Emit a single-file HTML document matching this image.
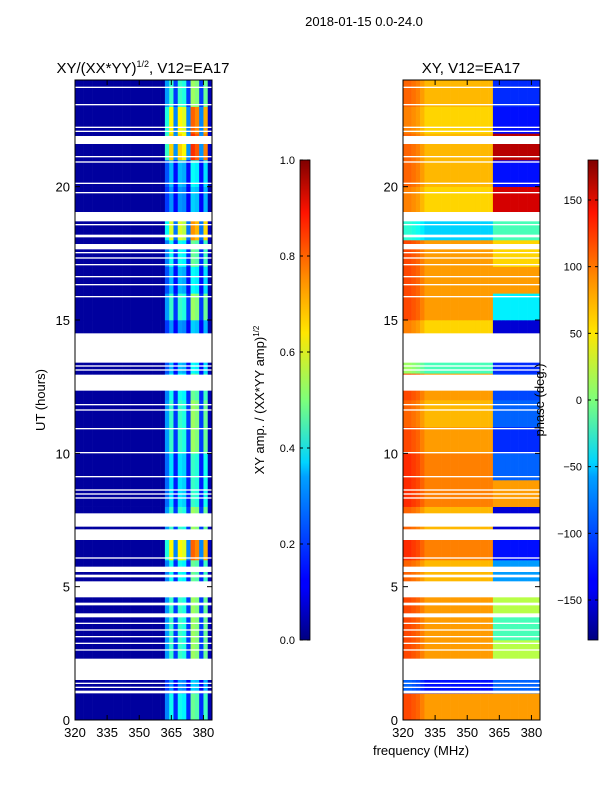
<!DOCTYPE html>
<html><head><meta charset="utf-8"><style>
body{margin:0;background:#fff;font-family:"Liberation Sans","DejaVu Sans",sans-serif}
svg text{font-family:"Liberation Sans","DejaVu Sans",sans-serif;fill:#000}
</style></head><body>
<svg id="fig" width="600" height="800" viewBox="0 0 600 800" xmlns="http://www.w3.org/2000/svg">
<defs>
<linearGradient id="jetv" x1="0" y1="1" x2="0" y2="0">
<stop offset="0" stop-color="#000080"/><stop offset="0.11" stop-color="#0000ff"/><stop offset="0.125" stop-color="#0000ff"/>
<stop offset="0.34" stop-color="#00a0ff"/><stop offset="0.37" stop-color="#00d4ff"/><stop offset="0.5" stop-color="#7dff7a"/>
<stop offset="0.64" stop-color="#ffe600"/><stop offset="0.75" stop-color="#ff9000"/><stop offset="0.89" stop-color="#ff1300"/><stop offset="1" stop-color="#800000"/>
</linearGradient>
</defs>
<text x="364" y="26" font-size="13" text-anchor="middle">2018-01-15 0.0-24.0</text>
<text x="143" y="73" font-size="15" text-anchor="middle">XY/(XX*YY)<tspan font-size="9" dy="-6">1/2</tspan><tspan dy="6">, V12=EA17</tspan></text>
<text x="471" y="73" font-size="15" text-anchor="middle">XY, V12=EA17</text>
<g id="ampPanel"></g>
<g id="phPanel"></g>
<g id="axes"></g>
<text transform="translate(45,400) rotate(-90)" font-size="13" text-anchor="middle">UT (hours)</text>
<text x="421" y="755" font-size="13" text-anchor="middle">frequency (MHz)</text>
<rect x="300" y="160" width="10" height="480" fill="url(#jetv)" stroke="#000" stroke-width="0.8"/>
<rect x="588" y="160" width="10" height="480" fill="url(#jetv)" stroke="#000" stroke-width="0.8"/>
<text transform="translate(264,400) rotate(-90)" font-size="13" text-anchor="middle">XY amp. / (XX*YY amp)<tspan font-size="8" dy="-5">1/2</tspan></text>
<text transform="translate(544,400) rotate(-90)" font-size="13" text-anchor="middle">phase (deg.)</text>
<g id="cbt"></g>
</svg>
<script>
const hourBlocks=[0,1,2,3,4,5,6,7,8,9,10,11,12,13,14,15,16,17,18,19,20,21,22,23];
const stripeIntensity=[0.45,0.3,0.5,0.5,0.5,0.45,0.75,0.5,0.4,0.4,0.5,0.5,0.45,0.35,0.3,0.5,0.35,0.45,0.7,0.3,0.35,0.8,0.75,0.5];
const freqBins=[320,322,324,326,328,330,332,334,336,338,340,342,344,346,348,350,352,354,356,358,360,362,364,366,368,370,372,374,376,378,380,382];
const stripeProfile=[0,0,0,0,0,0,0,0,0,0,0,0,0,0,0,0,0,0,0,0,0,0.5,0.8,0.3,0.8,0.75,0.3,1.0,0.95,0.3,0.9,0.05];
const phaseLow=[80,-130,80,80,80,70,90,70,90,90,80,70,80,-20,60,80,80,80,-60,60,70,70,60,70];
const phaseHigh=[80,-100,20,-20,20,-80,-130,-150,80,-100,-120,-100,-110,-120,-150,-50,80,60,-20,150,-130,160,-130,-120];
const phaseColAdj=[30,30,25,20,10,0,0,0,0,0,0,0,0,0,0,0,0,0,0,0,0,0,0,0,0,0,0,0,0,0,0,0];
const flagged=[[1.0,1.1],[1.2,1.25],[1.35,1.4],[1.5,2.3],[2.6,2.65],[2.85,2.9],[3.1,3.15],[3.35,3.4],[3.6,3.65],[3.85,4.0],[4.3,4.4],[4.6,5.2],[5.35,5.45],[5.55,5.75],[6.05,6.1],[6.75,7.15],[7.25,7.75],[8.3,8.35],[8.45,8.5],[8.6,8.65],[9.1,9.15],[10.0,10.05],[10.9,10.95],[11.6,11.65],[11.8,11.85],[12.35,12.95],[13.1,13.15],[13.25,13.3],[13.4,14.5],[15.85,15.9],[16.3,16.35],[16.6,16.65],[17.05,17.1],[17.3,17.35],[17.5,17.55],[17.65,17.85],[18.1,18.2],[18.55,18.6],[18.7,19.05],[19.75,19.8],[20.1,20.15],[20.9,20.95],[21.1,21.15],[21.6,21.9],[22.05,22.1],[22.2,22.25],[23.05,23.1],[23.7,23.75]];
const yTicks=[0,5,10,15,20];
const xTicks=[320,335,350,365,380];
const ampTicks=[0.0,0.2,0.4,0.6,0.8,1.0];
const phaseTicks=[-150,-100,-50,0,50,100,150];

const NS="http://www.w3.org/2000/svg";
const PT=80,PB=720,HMAX=24;
const yS=h=>PB-(h/HMAX)*(PB-PT);
function xS(x0,f){return x0+(f-320)*(137/64);}
function jet(v){v=Math.max(0,Math.min(1,v));
 const r=Math.max(0,Math.min(1,1.5-Math.abs(4*v-3))),g=Math.max(0,Math.min(1,1.5-Math.abs(4*v-2))),b=Math.max(0,Math.min(1,1.5-Math.abs(4*v-1)));
 return `rgb(${Math.round(r*255)},${Math.round(g*255)},${Math.round(b*255)})`;}
function mk(tag,attrs,parent){const e=document.createElementNS(NS,tag);for(const k in attrs)e.setAttribute(k,attrs[k]);parent.appendChild(e);return e;}

function panel(gid,x0,valFn,nm){
 const g=document.getElementById(gid);
 hourBlocks.forEach((h,i)=>{freqBins.forEach((f,j)=>{
  const r=mk('rect',{x:xS(x0,f).toFixed(2),y:yS(h+1).toFixed(2),width:(2*137/64+0.3).toFixed(2),height:(yS(h)-yS(h+1)+0.3).toFixed(2),fill:jet(valFn(i,j,f))},g);
  
  
 });});
 flagged.forEach(fl=>{
  const r=mk('rect',{x:x0,y:yS(fl[1]).toFixed(2),width:137,height:Math.max(1,yS(fl[0])-yS(fl[1])).toFixed(2),fill:'#fff'},g);
  
  
 });
 const ax=document.getElementById('axes');
 const fr=mk('rect',{x:x0,y:PT,width:137,height:PB-PT,fill:'none',stroke:'#000','stroke-width':1},ax);
 
 
 yTicks.forEach(t=>{const y=yS(t);
  mk('line',{x1:x0,x2:x0+5,y1:y,y2:y,stroke:'#000'},ax);mk('line',{x1:x0+137,x2:x0+132,y1:y,y2:y,stroke:'#000'},ax);
  const tx=mk('text',{x:x0-5,y:y+5,'font-size':13,'text-anchor':'end'},ax);tx.textContent=t;
  
  });
 xTicks.forEach(t=>{const x=xS(x0,t);
  mk('line',{x1:x,x2:x,y1:PB,y2:PB-5,stroke:'#000'},ax);mk('line',{x1:x,x2:x,y1:PT,y2:PT+5,stroke:'#000'},ax);
  const tx=mk('text',{x:x,y:PB+17,'font-size':13,'text-anchor':'middle'},ax);tx.textContent=t;
  
  });
}
panel('ampPanel',75,(i,j)=>0.03+stripeProfile[j]*stripeIntensity[i],'amp');
panel('phPanel',403,(i,j,f)=>{const p=(f<362?phaseLow[i]+phaseColAdj[j]:phaseHigh[i]);return (Math.max(-180,Math.min(180,p))+180)/360;},'phase');

const cb=document.getElementById('cbt');
ampTicks.forEach(t=>{const y=640-t*480;
 mk('line',{x1:300,x2:303,y1:y,y2:y,stroke:'#000'},cb);mk('line',{x1:310,x2:307,y1:y,y2:y,stroke:'#000'},cb);
 const tx=mk('text',{x:295,y:y+4,'font-size':11,'text-anchor':'end'},cb);tx.textContent=t.toFixed(1);
 
 });
phaseTicks.forEach(t=>{const y=400-t*(240/180);
 mk('line',{x1:588,x2:591,y1:y,y2:y,stroke:'#000'},cb);mk('line',{x1:598,x2:595,y1:y,y2:y,stroke:'#000'},cb);
 const tx=mk('text',{x:582,y:y+4,'font-size':11,'text-anchor':'end'},cb);tx.textContent=t<0?'\u2212'+(-t):t;
 
 });
</script>
</body></html>
